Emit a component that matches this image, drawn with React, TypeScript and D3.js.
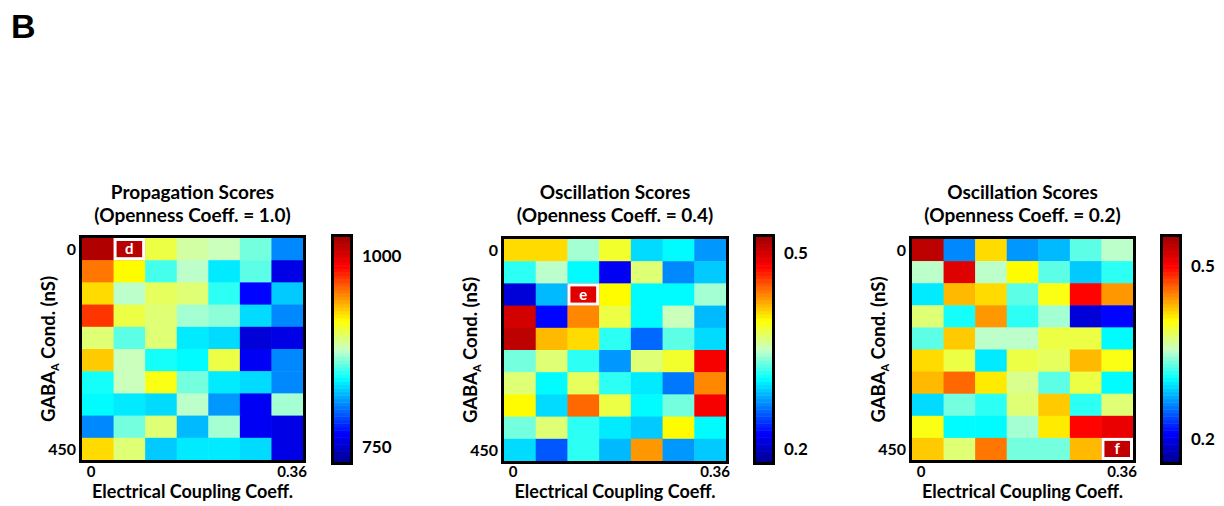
import React from "react";
import * as d3 from "d3";

// GABA_A rows (0 .. 450 nS), coupling columns (0 .. 0.36)
const rows = d3.range(10);
const cols = d3.range(7);

const propagation = [
  [1016, 1000, 904, 883, 880, 860, 804],
  [954, 916, 854, 875, 836, 857, 762],
  [925, 875, 898, 895, 848, 768, 824],
  [972, 901, 895, 869, 866, 830, 804],
  [892, 857, 895, 833, 827, 754, 762],
  [931, 878, 845, 839, 901, 765, 804],
  [841, 878, 910, 860, 833, 830, 804],
  [839, 833, 827, 875, 810, 765, 872],
  [804, 860, 895, 819, 869, 765, 762],
  [925, 892, 824, 833, 833, 830, 762],
];

const oscillation04 = [
  [0.408, 0.408, 0.346, 0.39, 0.294, 0.308, 0.273],
  [0.315, 0.349, 0.309, 0.221, 0.373, 0.27, 0.29],
  [0.208, 0.284, 0.5, 0.397, 0.309, 0.309, 0.346],
  [0.501, 0.225, 0.435, 0.384, 0.308, 0.353, 0.284],
  [0.511, 0.422, 0.408, 0.318, 0.256, 0.328, 0.297],
  [0.335, 0.37, 0.315, 0.273, 0.37, 0.39, 0.482],
  [0.37, 0.309, 0.377, 0.315, 0.301, 0.263, 0.435],
  [0.397, 0.297, 0.449, 0.38, 0.308, 0.332, 0.482],
  [0.332, 0.37, 0.315, 0.301, 0.29, 0.397, 0.309],
  [0.294, 0.252, 0.315, 0.284, 0.428, 0.273, 0.29],
];

const oscillation02 = [
  [0.534, 0.258, 0.417, 0.265, 0.277, 0.328, 0.351],
  [0.355, 0.519, 0.355, 0.406, 0.328, 0.285, 0.316],
  [0.297, 0.433, 0.417, 0.328, 0.398, 0.501, 0.441],
  [0.375, 0.312, 0.445, 0.316, 0.343, 0.191, 0.211],
  [0.328, 0.425, 0.355, 0.351, 0.386, 0.39, 0.304],
  [0.417, 0.386, 0.297, 0.386, 0.382, 0.429, 0.402],
  [0.429, 0.464, 0.414, 0.371, 0.328, 0.386, 0.304],
  [0.293, 0.336, 0.316, 0.375, 0.425, 0.316, 0.378],
  [0.398, 0.304, 0.306, 0.343, 0.414, 0.501, 0.511],
  [0.425, 0.375, 0.456, 0.332, 0.332, 0.429, 0.5],
];

const titles = [
  ["Propagation Scores", "(Openness Coeff. = 1.0)"],
  ["Oscillation Scores", "(Openness Coeff. = 0.4)"],
  ["Oscillation Scores", "(Openness Coeff. = 0.2)"],
];
const domains = [[730, 1025], [0.18, 0.525], [0.16, 0.55]];
const barTicks = [[1000, 750], [0.5, 0.2], [0.5, 0.2]];
const marks = [
  { label: "d", row: 0, col: 1, fill: "#b80000" },
  { label: "e", row: 2, col: 2, fill: "#e00000" },
  { label: "f", row: 9, col: 6, fill: "#c00000" },
];

const datasets = [propagation, oscillation04, oscillation02];

// jet-like map with a pale middle, as in the figure
const cmap = d3.scaleLinear<string>()
  .domain([0, 0.13, 0.37, 0.5, 0.63, 0.87, 1])
  .range(["#000090", "#0000ff", "#00ffff", "#c8ffc8", "#ffff00", "#ff0000", "#a00000"])
  .interpolate(d3.interpolateRgb)
  .clamp(true);
const LEVELS = 64;
const quant = (t) => cmap((Math.min(LEVELS - 1, Math.max(0, Math.floor(t * LEVELS))) + 0.5) / LEVELS);

const FONT = "Lato, 'Open Sans', sans-serif";

const panels = [
  { x: 82, y: 238, w: 221, h: 222, bx: 334 },
  { x: 504, y: 239, w: 222, h: 222, bx: 756 },
  { x: 912, y: 239, w: 221, h: 221, bx: 1163 },
];

function Panel({ idx }) {
  const p = panels[idx];
  const data = datasets[idx];
  const [lo, hi] = domains[idx];
  const t = d3.scaleLinear().domain([lo, hi]).range([0, 1]);
  const xs = d3.scaleBand().domain(cols).range([p.x, p.x + p.w]);
  const ys = d3.scaleBand().domain(rows).range([p.y, p.y + p.h]);
  const barTop = 237, barBot = 462, barW = 16;
  const by = d3.scaleLinear().domain([lo, hi]).range([barBot, barTop]);
  const steps = d3.range(LEVELS);
  const m = marks[idx];
  const cx = p.x + p.w / 2;

  return (
    <g>
      <text x={cx} y={199} textAnchor="middle" fontSize={19} fontWeight="bold">{titles[idx][0]}</text>
      <text x={cx} y={222} textAnchor="middle" fontSize={19} fontWeight="bold">{titles[idx][1]}</text>
      {rows.map((r) =>
        cols.map((c) => (
          <rect key={r + "-" + c} x={xs(c)} y={ys(r)} width={xs.bandwidth() + 0.5} height={ys.bandwidth() + 0.5}
            fill={quant(t(data[r][c]))} />
        ))
      )}
      <rect x={xs(m.col)} y={ys(m.row)} width={xs.bandwidth()} height={ys.bandwidth()} fill="#fff" />
      <rect x={xs(m.col) + 3} y={ys(m.row) + 3} width={xs.bandwidth() - 6} height={ys.bandwidth() - 6} fill={m.fill} />
      <text x={xs(m.col) + xs.bandwidth() / 2} y={ys(m.row) + ys.bandwidth() / 2 + 5} textAnchor="middle"
        fill="#fff" fontSize={15} fontWeight="bold">{m.label}</text>
      <rect x={p.x - 1.5} y={p.y - 1.5} width={p.w + 3} height={p.h + 3} fill="none" stroke="#000" strokeWidth={3} />

      <text x={p.x - 6} y={ys(0) + ys.bandwidth() / 2 + 6} textAnchor="end" fontSize={16} fontWeight="bold">0</text>
      <text x={p.x - 6} y={ys(9) + ys.bandwidth() / 2 + 6} textAnchor="end" fontSize={16} fontWeight="bold">450</text>
      <text transform={`translate(${p.x - 27},${p.y + p.h / 2}) rotate(-90)`} textAnchor="middle" fontSize={18.5} fontWeight="bold">
        GABA<tspan fontSize={11} dy={4}>A</tspan><tspan dy={-4}> Cond. (nS)</tspan>
      </text>
      <text x={p.x + 9} y={477} textAnchor="middle" fontSize={15} fontWeight="bold">0</text>
      <text x={p.x + p.w + 4} y={477} textAnchor="end" fontSize={15} fontWeight="bold">0.36</text>
      <text x={cx} y={498} textAnchor="middle" fontSize={18} fontWeight="bold">Electrical Coupling Coeff.</text>

      {steps.map((s) => {
        const v0 = lo + (s / LEVELS) * (hi - lo);
        const v1 = lo + ((s + 1) / LEVELS) * (hi - lo);
        return <rect key={s} x={p.bx} y={by(v1)} width={barW} height={by(v0) - by(v1) + 0.5} fill={quant((s + 0.5) / LEVELS)} />;
      })}
      <rect x={p.bx - 1.5} y={barTop - 1.5} width={barW + 3} height={barBot - barTop + 3} fill="none" stroke="#000" strokeWidth={3} />
      {barTicks[idx].map((v) => (
        <text key={v} x={p.bx + barW + 12} y={by(v) + 6} fontSize={17} fontWeight="bold">{v}</text>
      ))}
    </g>
  );
}

export default function App() {
  return (
    <svg width={1224} height={506} style={{ position: "absolute", left: 0, top: 0, background: "#fff" }}
      fontFamily={FONT}>
      <rect width={1224} height={506} fill="#fff" />
      <text x={11} y={38} fontSize={34} fontWeight="bold" fontFamily="'Liberation Sans', Arial, sans-serif">B</text>
      {[0, 1, 2].map((i) => <Panel key={i} idx={i} />)}
    </svg>
  );
}
